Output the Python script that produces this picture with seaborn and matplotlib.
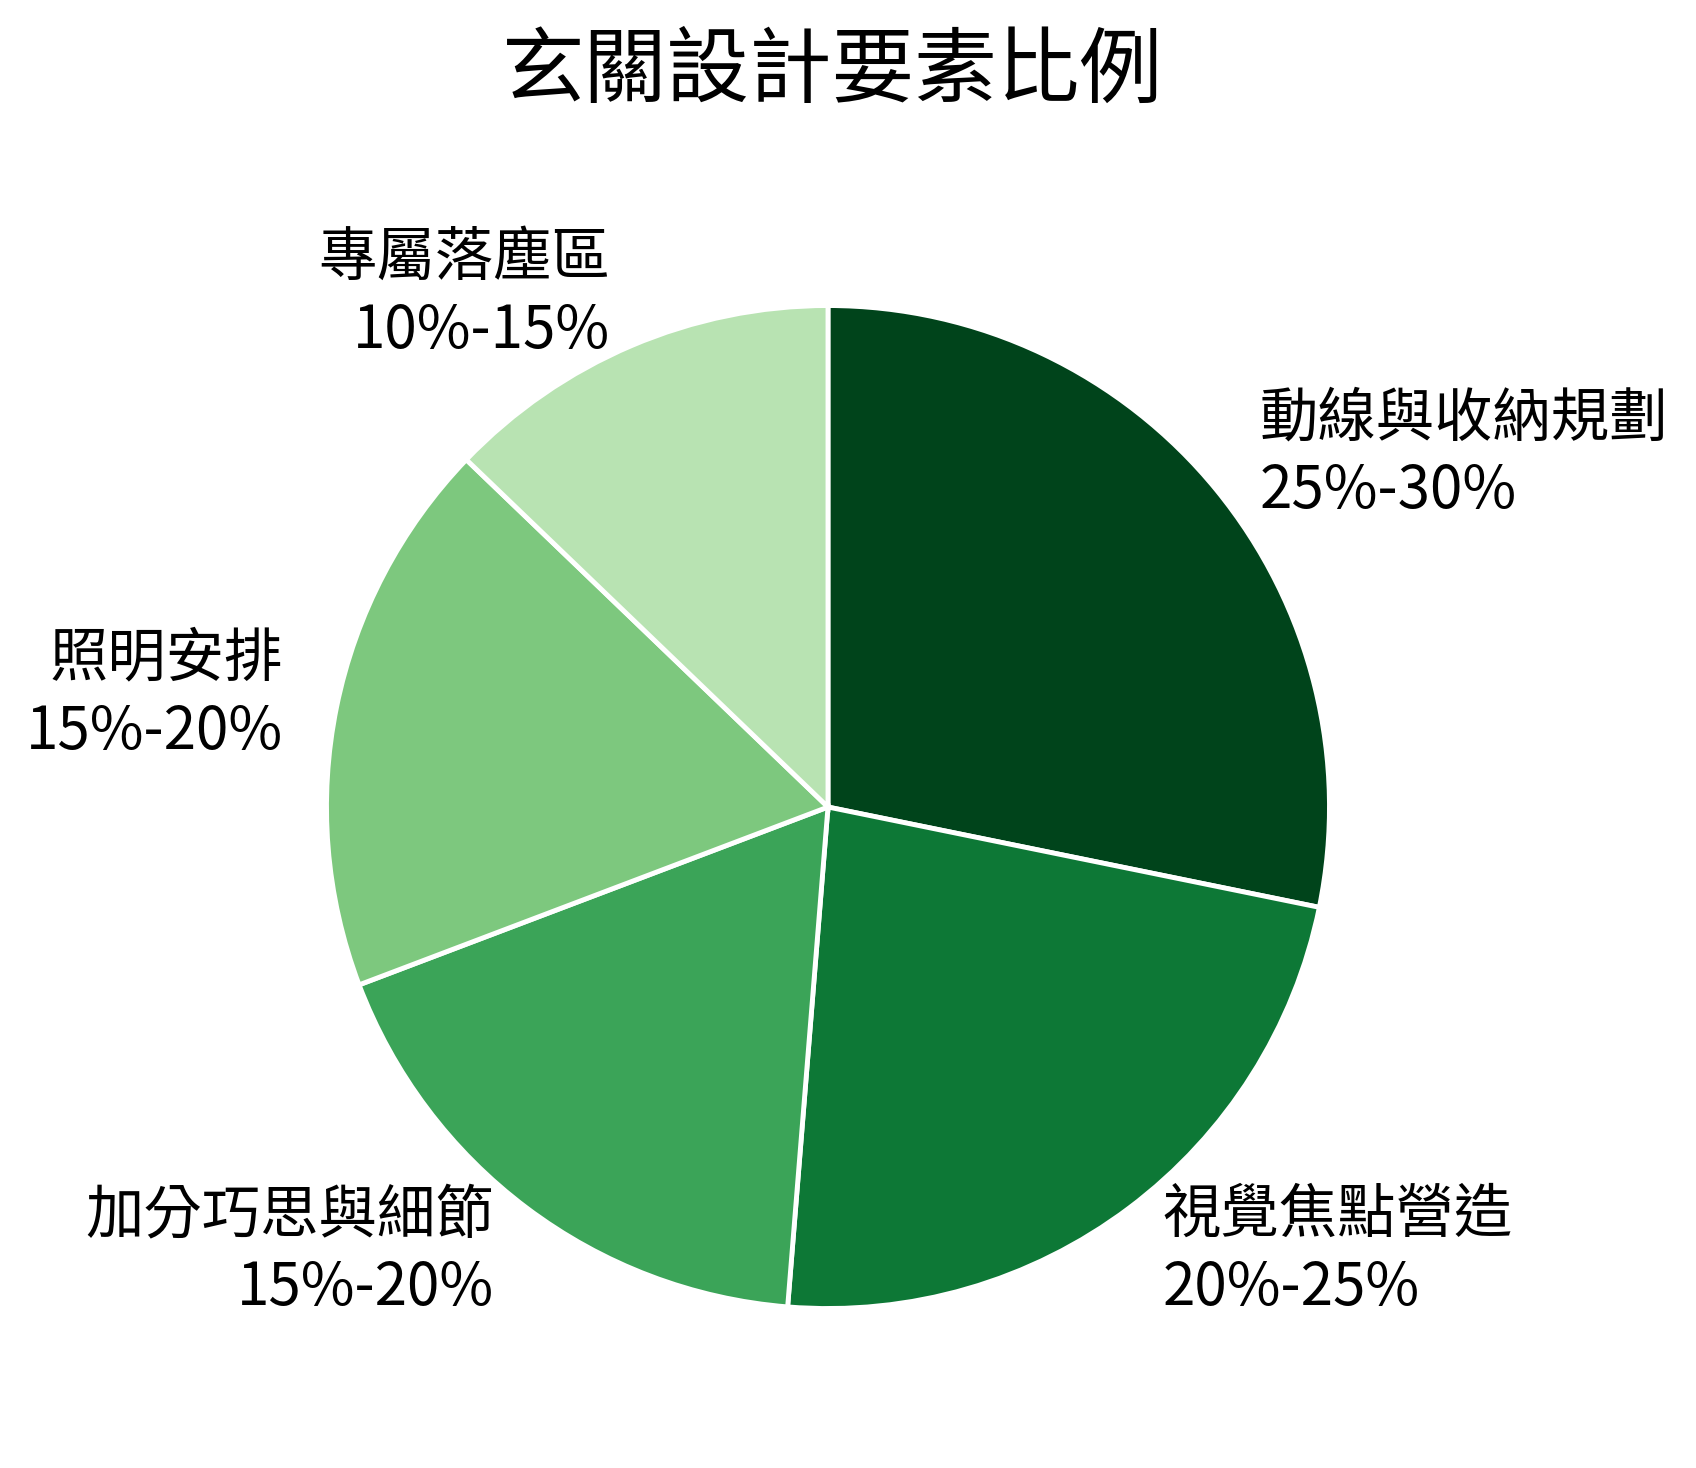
import numpy as np
import matplotlib
matplotlib.use("Agg")
import matplotlib.pyplot as plt
import seaborn as sns

# 玄關設計要素比例 - 用每個區間的中點畫餅圖

categories = ["動線與收納規劃", "視覺焦點營造", "加分巧思與細節", "照明安排", "專屬落塵區"]
ranges = ["25%-30%", "20%-25%", "15%-20%", "15%-20%", "10%-15%"]
values = [27.5, 22.5, 17.5, 17.5, 12.5]

sns.set_theme(style="white")
plt.rcParams['font.family'] = ['Noto Sans CJK TC', 'DejaVu Sans']

greens = sns.color_palette("Greens", as_cmap=True)
colors = greens(np.linspace(1.0, 0.3, len(values)))

labels = [f"{c}\n{r}" for c, r in zip(categories, ranges)]

fig = plt.figure(figsize=(16.96, 14.68), dpi=100)
ax = fig.add_axes([0.1197, 0.0245, 0.737, 0.8515])

wedges, texts = ax.pie(values, labels=labels, colors=colors, startangle=90,
                       counterclock=False, labeldistance=1.11, radius=1.003,
                       wedgeprops=dict(edgecolor="white", linewidth=3.5),
                       textprops=dict(fontsize=42, color="black"))
for t in texts:
    t.set_linespacing(1.25)

ax.set_xlim(-1.25, 1.25)
ax.set_ylim(-1.25, 1.25)
ax.set_aspect("equal")

fig.text(0.491, 0.951, "玄關設計要素比例", ha="center", va="center",
         fontsize=59.5, color="black")

fig.savefig("out.png", dpi=100)
